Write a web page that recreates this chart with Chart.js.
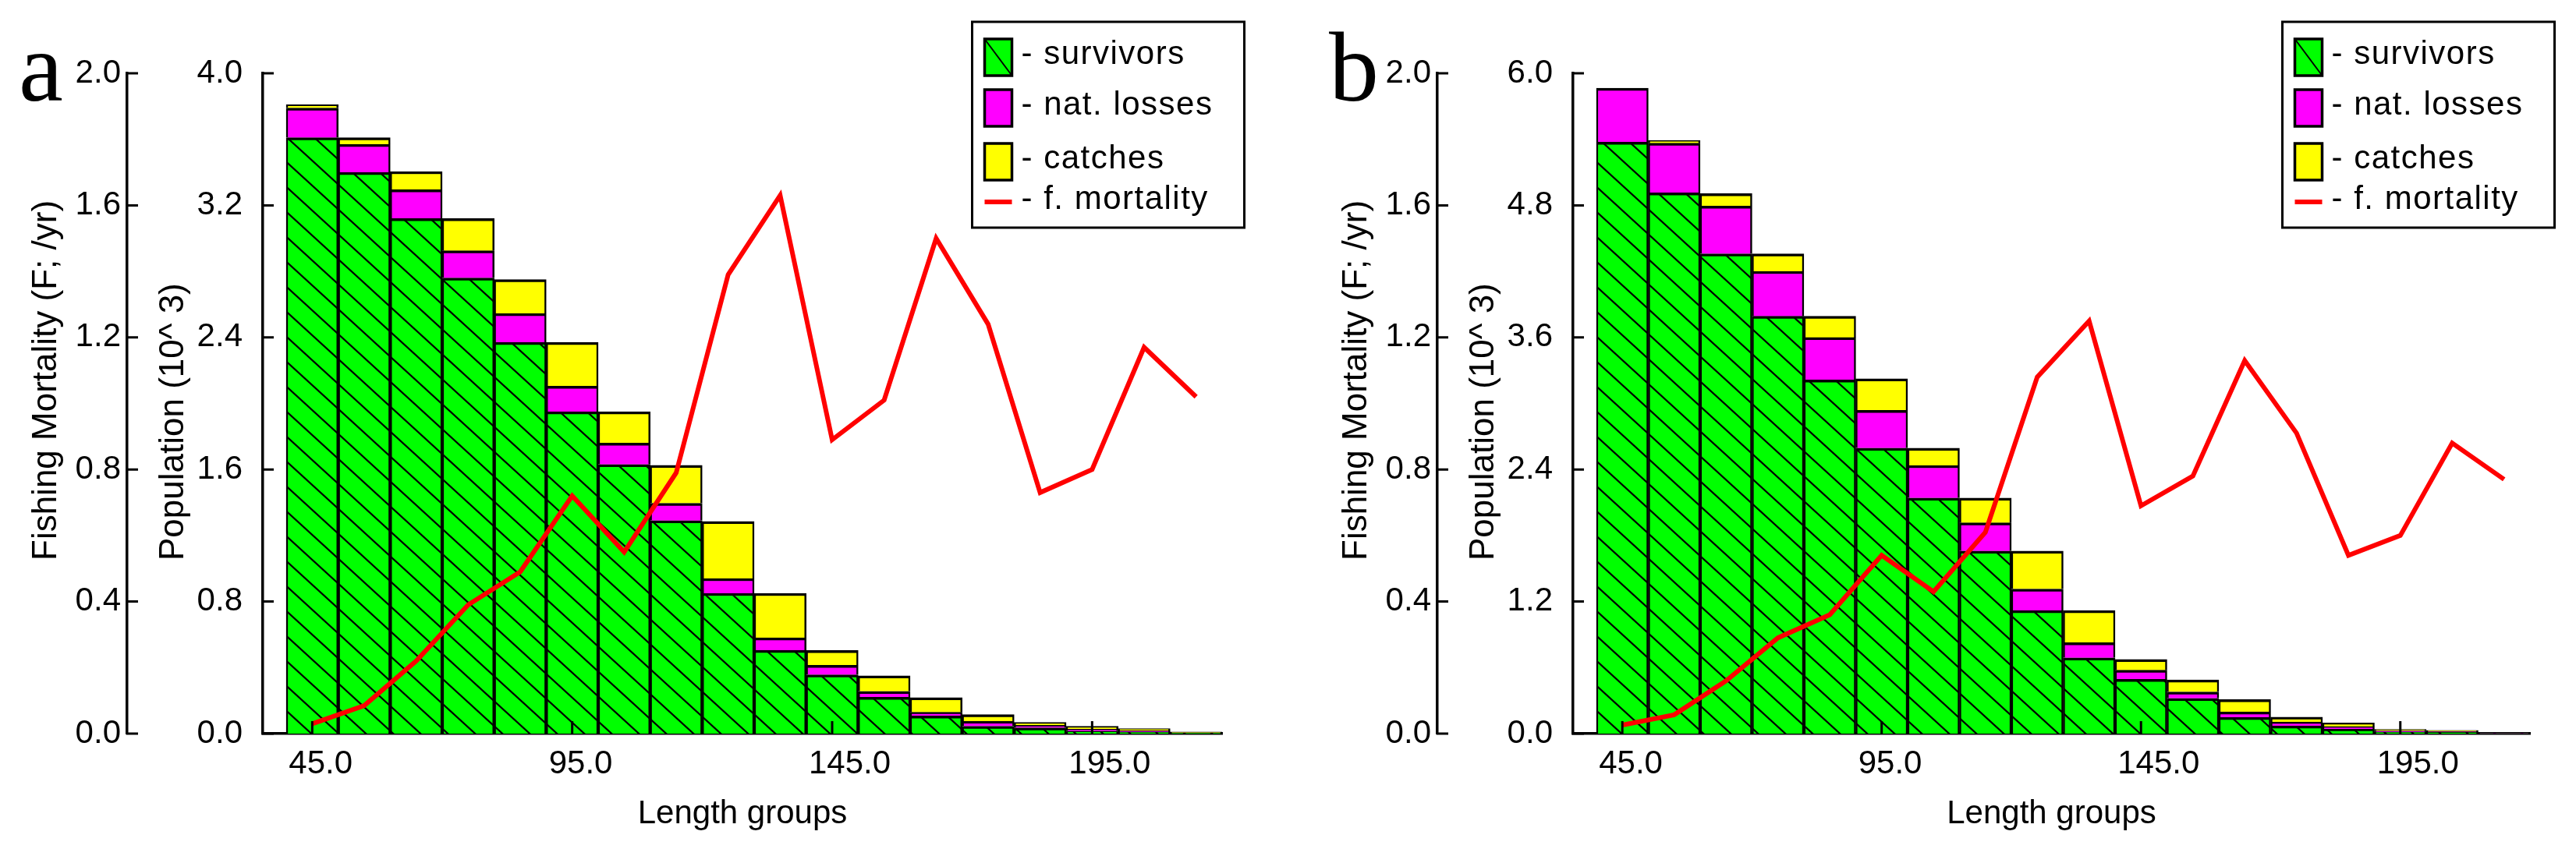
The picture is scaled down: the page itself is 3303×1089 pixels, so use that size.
<!DOCTYPE html>
<html>
<head>
<meta charset="utf-8">
<title>Population and fishing mortality by length group</title>
<script src="https://cdn.jsdelivr.net/npm/chart.js@4.4.1/dist/chart.umd.min.js"></script>
<style>
  html, body { margin: 0; padding: 0; background: #fff; }
  body { width: 3303px; height: 1089px; position: relative; overflow: hidden; }
  .panel { position: absolute; top: 0; height: 1089px; }
  #panelA { left: 0; width: 1680px; }
  #panelB { left: 1680px; width: 1623px; }
</style>
</head>
<body>
<div class="panel" id="panelA"><canvas id="chartA"></canvas></div>
<div class="panel" id="panelB"><canvas id="chartB"></canvas></div>
<script>
// length groups (class mid points) and tick labels
var lengths = [45, 55, 65, 75, 85, 95, 105, 115, 125, 135, 145, 155, 165, 175, 185, 195, 205, 215];
var xTicks = [45, 95, 145, 195];
var fTicks = [0.0, 0.4, 0.8, 1.2, 1.6, 2.0];
var popTicksA = [0.0, 0.8, 1.6, 2.4, 3.2, 4.0];
var popTicksB = [0.0, 1.2, 2.4, 3.6, 4.8, 6.0];

// panel a - population (10^3) and F
var survivorsA = [3.61, 3.40, 3.12, 2.76, 2.37, 1.95, 1.63, 1.29, 0.85, 0.505, 0.356, 0.22, 0.107, 0.045, 0.035, 0.015, 0.01, 0.003];
var natLossesA = [0.18, 0.17, 0.175, 0.165, 0.175, 0.155, 0.13, 0.105, 0.09, 0.075, 0.058, 0.036, 0.022, 0.03, 0.015, 0.012, 0.008, 0.003];
var catchesA   = [0.02, 0.04, 0.11, 0.195, 0.205, 0.265, 0.19, 0.23, 0.345, 0.27, 0.09, 0.094, 0.089, 0.04, 0.018, 0.017, 0.012, 0.004];
var fMortA     = [0.03, 0.085, 0.22, 0.39, 0.49, 0.72, 0.55, 0.79, 1.39, 1.63, 0.89, 1.01, 1.50, 1.24, 0.73, 0.80, 1.17, 1.02];

// panel b
var survivorsB = [5.375, 4.914, 4.36, 3.792, 3.213, 2.594, 2.141, 1.659, 1.118, 0.689, 0.493, 0.32, 0.148, 0.07, 0.04, 0.015, 0.012, 0.002];
var natLossesB = [0.489, 0.451, 0.434, 0.409, 0.386, 0.344, 0.296, 0.256, 0.196, 0.138, 0.083, 0.059, 0.049, 0.035, 0.025, 0.01, 0.008, 0.002];
var catchesB   = [0.0, 0.025, 0.112, 0.159, 0.193, 0.286, 0.157, 0.226, 0.345, 0.291, 0.099, 0.109, 0.113, 0.045, 0.032, 0.013, 0.01, 0.002];
var fMortB     = [0.026, 0.057, 0.16, 0.29, 0.36, 0.54, 0.43, 0.61, 1.08, 1.25, 0.69, 0.78, 1.13, 0.91, 0.54, 0.60, 0.88, 0.77];

var segColors = ['#00ff00', '#ff00ff', '#ffff00'];
var SANS = "'Liberation Sans', Arial, sans-serif";

Chart.defaults.font.family = SANS;
Chart.defaults.color = '#000';

// green fill with black "\" hatching
function hatchPattern(){
    var c = document.createElement('canvas');
    c.width = 35; c.height = 32;
    var g = c.getContext('2d');
    g.fillStyle = segColors[0];
    g.fillRect(0, 0, 35, 32);
    g.strokeStyle = '#000';
    g.lineWidth = 2.2;
    g.beginPath();
    g.moveTo(-35, -32); g.lineTo(70, 64);
    g.moveTo(-35, 0); g.lineTo(35, 64);
    g.moveTo(0, -32); g.lineTo(70, 32);
    g.stroke();
    return g.createPattern(c, 'repeat');
}

// tick marks pointing into the plot
var inwardTicks = {
    id: 'inwardTicks',
    afterDatasetsDraw: function(chart){
        var ctx = chart.ctx;
        ctx.save();
        ctx.strokeStyle = '#000';
        ctx.lineWidth = 3;
        ctx.beginPath();
        ['yF', 'yPop'].forEach(function(id){
            var s = chart.scales[id];
            s.ticks.forEach(function(t){
                var y = s.getPixelForValue(t.value);
                ctx.moveTo(s.right - 1, y);
                ctx.lineTo(s.right + 14, y);
            });
        });
        var sx = chart.scales.x;
        sx.ticks.forEach(function(t){
            var x = sx.getPixelForValue(t.value);
            ctx.moveTo(x, sx.top);
            ctx.lineTo(x, sx.top - 16);
        });
        ctx.stroke();
        ctx.restore();
    }
};

// panel letter + rotated axis titles
var panelText = {
    id: 'panelText',
    afterDraw: function(chart){
        var o = chart.options.plugins.panelText;
        var ctx = chart.ctx;
        ctx.save();
        ctx.fillStyle = '#000';
        ctx.textBaseline = 'alphabetic';
        ctx.textAlign = 'left';
        ctx.font = "128px 'Liberation Serif', 'Times New Roman', serif";
        ctx.fillText(o.letter, 24, 129);

        ctx.font = '44px ' + SANS;
        ctx.textBaseline = 'middle';
        var yF = chart.scales.yF, yPop = chart.scales.yPop;
        [[o.fTitle, yF.left + 60], [o.popTitle, yPop.left + 60]].forEach(function(t){
            ctx.save();
            ctx.translate(t[1], yF.bottom - 222);
            ctx.rotate(-Math.PI / 2);
            ctx.fillText(t[0], 0, 0);
            ctx.restore();
        });
        ctx.restore();
    }
};

// boxed legend like the original
var boxLegend = {
    id: 'boxLegend',
    afterDraw: function(chart){
        var L = chart.options.plugins.boxLegend;
        var ctx = chart.ctx;
        ctx.save();
        ctx.strokeStyle = '#000';
        ctx.lineWidth = 3;
        ctx.strokeRect(L.x, L.y, L.w, L.h);
        ctx.font = '42px ' + SANS;
        ctx.textBaseline = 'alphabetic';
        ctx.textAlign = 'left';
        if ('letterSpacing' in ctx) ctx.letterSpacing = '1.5px';
        chart.data.datasets.forEach(function(ds, i){
            var cy = L.rows[i];
            var sx = L.x + 16;
            if (ds.type === 'line'){
                ctx.strokeStyle = ds.borderColor;
                ctx.lineWidth = 6;
                ctx.beginPath();
                ctx.moveTo(sx, cy); ctx.lineTo(sx + 35, cy);
                ctx.stroke();
            } else {
                ctx.fillStyle = segColors[i];
                ctx.fillRect(sx, cy - 23, 35, 47);
                ctx.strokeStyle = '#000';
                if (i === 0){
                    ctx.lineWidth = 2;
                    ctx.beginPath();
                    ctx.moveTo(sx, cy - 23); ctx.lineTo(sx + 35, cy + 24);
                    ctx.stroke();
                }
                ctx.lineWidth = 3.5;
                ctx.strokeRect(sx, cy - 23, 35, 47);
            }
            ctx.fillStyle = '#000';
            ctx.fillText('- ' + ds.label, L.x + 63, cy + 9);
        });
        ctx.restore();
    }
};

function makeChart(id, letter, surv, nat, catches, fMort, popMax, popTicks, padRight){
    var ctx = document.getElementById(id).getContext('2d');
    var barCommon = {
        type: 'bar',
        yAxisID: 'yPop',
        stack: 'pop',
        order: 1,
        borderColor: '#000',
        borderWidth: {top: 3.5, left: 2.5, right: 2.5, bottom: 0},
        barPercentage: 1.0,
        categoryPercentage: 1.0
    };
    var tickFont = {size: 42};
    return new Chart(ctx, {
        type: 'bar',
        data: {
            labels: lengths,
            datasets: [
                Object.assign({label: 'survivors', data: surv, backgroundColor: hatchPattern()}, barCommon),
                Object.assign({label: 'nat. losses', data: nat, backgroundColor: segColors[1]}, barCommon),
                Object.assign({label: 'catches', data: catches, backgroundColor: segColors[2]}, barCommon),
                { type: 'line', label: 'f. mortality', data: fMort, yAxisID: 'yF', order: 0,
                  borderColor: '#ff0000', borderWidth: 6, pointRadius: 0, tension: 0, fill: false }
            ]
        },
        options: {
            responsive: true,
            maintainAspectRatio: false,
            devicePixelRatio: 1,
            animation: false,
            layout: { padding: {left: 0, top: 94, right: padRight, bottom: 8} },
            scales: {
                x: {
                    type: 'linear', position: 'bottom', min: 35.5, max: 220,
                    offset: false, stacked: true,
                    grid: {display: false, drawTicks: false},
                    border: {display: true, color: '#000', width: 3.5},
                    afterBuildTicks: function(s){ s.ticks = xTicks.map(function(v){ return {value: v}; }); },
                    afterFit: function(s){ s.height = 140; },
                    ticks: {
                        font: tickFont, color: '#000', padding: 14, maxRotation: 0, autoSkip: false,
                        align: 'start', labelOffset: -30,
                        callback: function(v){ return Number(v).toFixed(1); }
                    },
                    title: {display: true, text: 'Length groups', font: {size: 42}, color: '#000',
                            padding: {top: 0, bottom: 11}}
                },
                yF: {
                    type: 'linear', position: 'left', weight: 1, min: 0, max: 2,
                    grid: {display: false, drawTicks: false},
                    border: {display: true, color: '#000', width: 3.5},
                    afterBuildTicks: function(s){ s.ticks = fTicks.map(function(v){ return {value: v}; }); },
                    afterFit: function(s){ s.width = 163; },
                    ticks: { font: tickFont, color: '#000', padding: 8,
                             callback: function(v){ return Number(v).toFixed(1); } }
                },
                yPop: {
                    type: 'linear', position: 'left', weight: 0, min: 0, max: popMax, stacked: true,
                    grid: {display: false, drawTicks: false},
                    border: {display: true, color: '#000', width: 3.5},
                    afterBuildTicks: function(s){ s.ticks = popTicks.map(function(v){ return {value: v}; }); },
                    afterFit: function(s){ s.width = 174; },
                    ticks: { font: tickFont, color: '#000', padding: 26,
                             callback: function(v){ return Number(v).toFixed(1); } }
                }
            },
            plugins: {
                legend: {display: false},
                tooltip: {enabled: false},
                panelText: {letter: letter, fTitle: 'Fishing Mortality (F; /yr)', popTitle: 'Population (10^ 3)'},
                boxLegend: {x: 1246.5, y: 28, w: 349, h: 264, rows: [73, 138, 207, 259]}
            }
        },
        plugins: [inwardTicks, panelText, boxLegend]
    });
}

makeChart('chartA', 'a', survivorsA, natLossesA, catchesA, fMortA, 4, popTicksA, 113);
makeChart('chartB', 'b', survivorsB, natLossesB, catchesB, fMortB, 6, popTicksB, 59);
</script>
</body>
</html>
